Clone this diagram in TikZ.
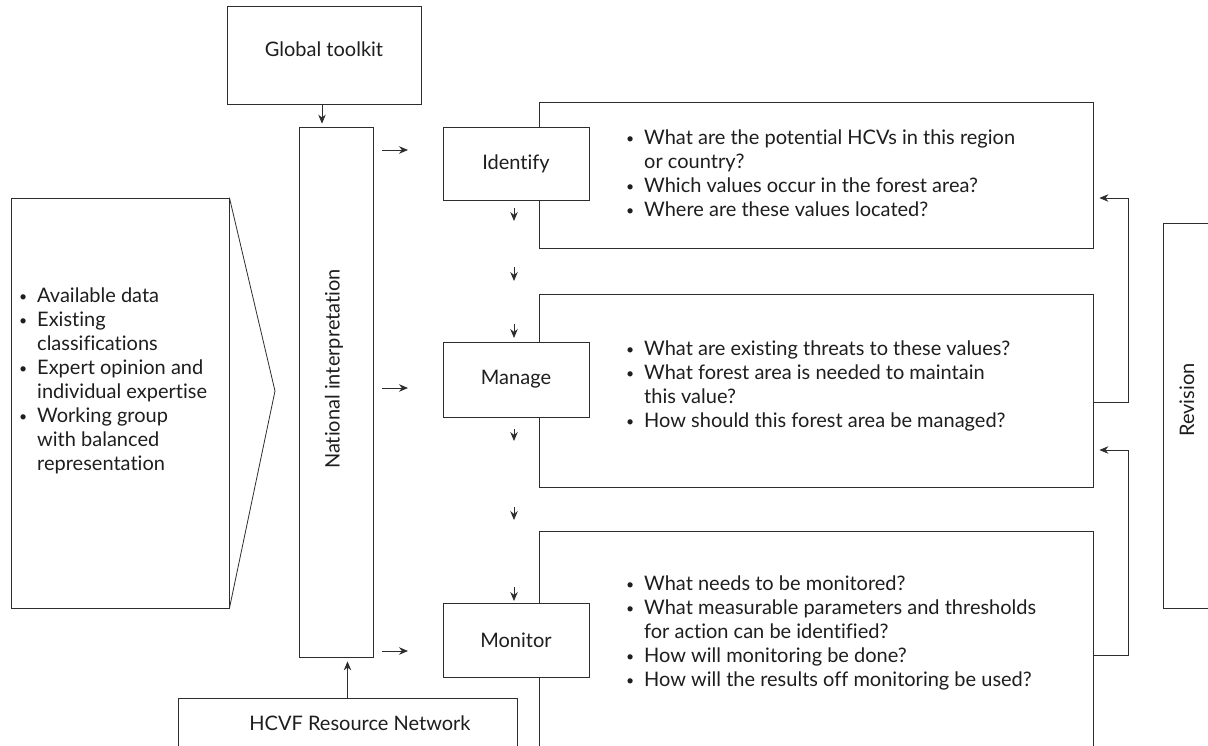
\documentclass[tikz,border=0pt]{standalone}
\usepackage{fontspec}
\setmainfont{Lato}[Ligatures=NoCommon]
\usetikzlibrary{positioning, arrows.meta, calc}
\definecolor{hcline}{RGB}{45, 45, 45}
\definecolor{hctext}{RGB}{30, 30, 30}
\newcommand{\bitem}{\makebox[18pt][l]{\raisebox{1.2pt}{\fontsize{14}{14}\selectfont\textbullet}}}
\newcommand{\bcont}{\hspace*{18pt}}
\tikzset{
    frame/.style={draw=hcline, line width=0.8pt, fill=white, inner sep=0pt, text=hctext},
    stagebox/.style={frame, minimum width=146pt, font=\fontsize{20}{24}\selectfont},
    plainlabel/.style={inner sep=0pt, text=hctext, font=\fontsize{20}{24}\selectfont},
    qtext/.style={align=left, anchor=north west, inner sep=0pt, text=hctext, font=\fontsize{20}{24}\selectfont},
    arr/.style={draw=hcline, line width=0.8pt, -{Stealth[length=9pt, width=7.5pt]}}
}

\begin{document}
\begin{tikzpicture}[x=1pt, y=-1pt]
    \path[use as bounding box, clip] (0,0) rectangle (1208,746);

    % question boxes
    \node[frame, minimum width=554pt, minimum height=146pt] (q1) at (816,175) {};
    \node[frame, minimum width=554pt, minimum height=193pt] (q2) at (816,390.5) {};
    \node[frame, minimum width=554pt, minimum height=239pt] (q3) at (816,650.5) {};
    \node[qtext] (q1text) at (626,130) {\bitem What are the potential HCVs in this region\\
        \bcont or country?\\
        \bitem Which values occur in the forest area?\\
        \bitem Where are these values located?};
    \node[qtext] (q2text) at (626,341) {\bitem What are existing threats to these values?\\
        \bitem What forest area is needed to maintain\\
        \bcont this value?\\
        \bitem How should this forest area be managed?};
    \node[qtext] (q3text) at (626,575.5) {\bitem What needs to be monitored?\\
        \bitem What measurable parameters and thresholds\\
        \bcont for action can be identified?\\
        \bitem How will monitoring be done?\\
        \bitem How will the results off monitoring be used?};

    % stages
    \node[stagebox, minimum height=73pt] (identify) at (516,163.5) {Identify};
    \node[stagebox, minimum height=75pt] (manage) at (516,379.5) {Manage};
    \node[stagebox, minimum height=74pt] (monitor) at (516,640) {Monitor};

    % left side
    \node[frame, minimum width=194pt, minimum height=98pt] (toolkit) at (324,55) {};
    \node[plainlabel] (toolkittext) at (324,49) {Global toolkit};
    \node[frame, minimum width=74pt, minimum height=530pt] (natl) at (336,392) {};
    \node[plainlabel, rotate=90] (natltext) at (334,369) {National interpretation};
    \node[frame, minimum width=218pt, minimum height=410pt] (inputs) at (120,403) {};
    \coordinate (chevtip) at (275,391);
    \draw[draw=hcline, line width=0.8pt] (inputs.north east) -- (chevtip) -- (inputs.south east);
    \node[qtext] (inputstext) at (19,288) {\bitem Available data\\
        \bitem Existing\\
        \bcont classifications\\
        \bitem Expert opinion and\\
        \bcont individual expertise\\
        \bitem Working group\\
        \bcont with balanced\\
        \bcont representation};
    \node[frame, minimum width=339pt, minimum height=72pt] (hcvf) at (347.5,734) {};
    \node[plainlabel] (hcvftext) at (360,723) {HCVF Resource Network};

    % right side
    \node[frame, minimum width=52pt, minimum height=385pt] (revision) at (1189,415.5) {};
    \node[plainlabel, rotate=90] (revisiontext) at (1187,400) {Revision};

    % arrows
    \draw[arr, shorten >=3pt] (toolkit.south -| 322,0) -- (natl.north -| 322,0);
    \draw[arr, shorten >=4pt] (hcvf.north) -- (hcvf.north |- natl.south);
    \foreach \y [count=\i] in {150, 388, 651} {
        \coordinate (ra\i) at (382,\y);
        \coordinate (rb\i) at (408,\y);
        \draw[arr] (ra\i) -- (rb\i);
    }
    \foreach \ya/\yb [count=\i] in {208/221, 267/281, 324/338, 429/441, 507/520, 587/601} {
        \coordinate (da\i) at (514,\ya);
        \coordinate (db\i) at (514,\yb);
        \draw[arr] (da\i) -- (db\i);
    }
    \draw[arr] ([yshift=-11.5pt]q2.east) -- ++(35,0) |- ([yshift=-23pt, xshift=6pt]q1.east);
    \draw[arr] ([yshift=-4.5pt]q3.east) -- ++(35,0) |- ([yshift=-59.5pt, xshift=6pt]q2.east);
\end{tikzpicture}
\end{document}
